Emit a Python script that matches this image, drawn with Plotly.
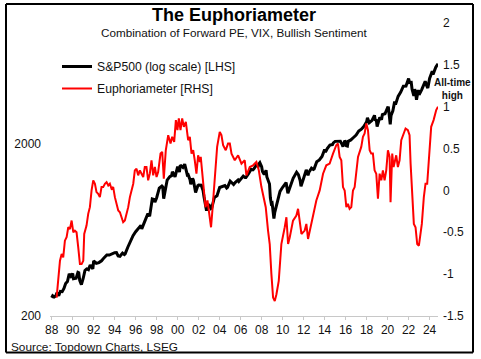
import plotly.graph_objects as go

# ---------------- data ----------------
# S&P 500 (log scale, LHS): fractional year, index level
spx_year = [1988.00, 1988.10, 1988.25, 1988.40, 1988.50, 1988.67, 1988.83, 1989.00, 1989.17, 1989.33,
            1989.50, 1989.67, 1989.83, 1990.00, 1990.08, 1990.33, 1990.50, 1990.58, 1990.67, 1990.83,
            1991.00, 1991.17, 1991.33, 1991.50, 1991.67, 1991.92, 1992.00, 1992.25, 1992.50, 1992.75,
            1993.00, 1993.25, 1993.50, 1993.75, 1994.00, 1994.17, 1994.33, 1994.50, 1994.75, 1994.92,
            1995.00, 1995.25, 1995.50, 1995.75, 1996.00, 1996.25, 1996.50, 1996.58, 1996.75, 1997.00,
            1997.17, 1997.33, 1997.50, 1997.58, 1997.75, 1997.83, 1998.00, 1998.25, 1998.50, 1998.58,
            1998.67, 1998.75, 1998.92, 1999.00, 1999.25, 1999.42, 1999.50, 1999.75, 2000.00, 2000.17,
            2000.25, 2000.50, 2000.67, 2000.75, 2000.92, 2001.00, 2001.17, 2001.25, 2001.42, 2001.50,
            2001.71, 2001.92, 2002.00, 2002.25, 2002.42, 2002.50, 2002.58, 2002.75, 2002.83, 2003.00,
            2003.17, 2003.25, 2003.50, 2003.75, 2004.00, 2004.25, 2004.50, 2004.67, 2004.75, 2005.00,
            2005.25, 2005.33, 2005.50, 2005.75, 2005.83, 2006.00, 2006.25, 2006.42, 2006.50, 2006.75,
            2007.00, 2007.17, 2007.25, 2007.50, 2007.67, 2007.75, 2007.83, 2008.00, 2008.08, 2008.25,
            2008.42, 2008.50, 2008.75, 2008.83, 2008.92, 2009.00, 2009.08, 2009.17, 2009.25, 2009.50,
            2009.75, 2010.00, 2010.25, 2010.33, 2010.50, 2010.75, 2011.00, 2011.33, 2011.50, 2011.67,
            2011.75, 2012.00, 2012.25, 2012.42, 2012.50, 2012.75, 2012.92, 2013.00, 2013.25, 2013.50,
            2013.75, 2014.00, 2014.08, 2014.25, 2014.50, 2014.75, 2014.83, 2015.00, 2015.25, 2015.50,
            2015.67, 2015.75, 2015.92, 2016.00, 2016.08, 2016.17, 2016.25, 2016.50, 2016.75, 2017.00,
            2017.25, 2017.50, 2017.75, 2018.00, 2018.08, 2018.17, 2018.25, 2018.50, 2018.75, 2018.83,
            2018.92, 2019.00, 2019.25, 2019.42, 2019.50, 2019.75, 2020.00, 2020.08, 2020.17, 2020.25,
            2020.33, 2020.50, 2020.67, 2020.75, 2021.00, 2021.25, 2021.50, 2021.75, 2022.00, 2022.08,
            2022.25, 2022.33, 2022.50, 2022.58, 2022.67, 2022.75, 2022.92, 2023.00, 2023.25, 2023.50,
            2023.58, 2023.75, 2023.83, 2024.00, 2024.25, 2024.33, 2024.50, 2024.58, 2024.67, 2024.80]
spx_value = [255, 262, 258, 262, 273, 262, 278, 277, 289, 309,
             317, 351, 340, 353, 329, 331, 358, 356, 322, 304,
             330, 367, 375, 371, 395, 375, 417, 404, 408, 418,
             436, 452, 451, 459, 466, 467, 446, 444, 463, 454,
             459, 501, 545, 584, 616, 645, 671, 640, 687, 741,
             786, 757, 885, 954, 947, 915, 970, 1102, 1134, 1121,
             957, 1017, 1163, 1229, 1286, 1302, 1373, 1283, 1469, 1366,
             1499, 1455, 1518, 1436, 1315, 1320, 1240, 1160, 1255, 1224,
             1041, 1139, 1148, 1147, 1067, 990, 912, 815, 885, 880,
             841, 848, 975, 996, 1112, 1126, 1141, 1104, 1115, 1212,
             1181, 1157, 1191, 1229, 1207, 1248, 1295, 1270, 1270, 1336,
             1418, 1407, 1421, 1503, 1474, 1527, 1549, 1468, 1378, 1323,
             1400, 1280, 1166, 969, 896, 903, 826, 735, 798, 919,
             1057, 1115, 1169, 1187, 1031, 1141, 1258, 1364, 1321, 1219,
             1131, 1258, 1408, 1310, 1362, 1441, 1416, 1426, 1569, 1606,
             1682, 1848, 1783, 1872, 1960, 1972, 2018, 2059, 2068, 2063,
             1972, 1920, 2080, 2044, 1940, 1932, 2060, 2099, 2168, 2239,
             2363, 2423, 2519, 2674, 2824, 2714, 2641, 2718, 2914, 2712,
             2760, 2507, 2834, 2752, 2942, 2977, 3231, 3226, 2954, 2585,
             2912, 3100, 3500, 3363, 3756, 3973, 4298, 4308, 4766, 4516,
             4530, 4132, 3785, 4130, 3955, 3586, 4080, 3840, 4109, 4450,
             4589, 4288, 4194, 4770, 5254, 5036, 5460, 5522, 5648, 5800]

# Euphoriameter (RHS): fractional year, composite z-score
eu_year = [1988.47, 1988.63, 1988.79, 1988.95, 1989.10, 1989.26, 1989.42, 1989.58, 1989.74, 1989.90,
           1990.06, 1990.21, 1990.37, 1990.53, 1990.69, 1990.85, 1991.01, 1991.10, 1991.32, 1991.48,
           1991.64, 1991.80, 1991.96, 1992.12, 1992.27, 1992.43, 1992.59, 1992.75, 1992.91, 1993.07,
           1993.23, 1993.39, 1993.54, 1993.70, 1993.86, 1994.02, 1994.18, 1994.34, 1994.50, 1994.66,
           1994.81, 1994.97, 1995.13, 1995.29, 1995.45, 1995.61, 1995.77, 1995.92, 1996.08, 1996.24,
           1996.40, 1996.56, 1996.72, 1996.87, 1997.03, 1997.19, 1997.35, 1997.51, 1997.67, 1997.83,
           1997.99, 1998.14, 1998.37, 1998.53, 1998.68, 1998.87, 1999.10, 1999.32, 1999.48, 1999.67,
           1999.83, 1999.98, 2000.11, 2000.27, 2000.43, 2000.59, 2000.78, 2001.00, 2001.16, 2001.32,
           2001.48, 2001.63, 2001.79, 2001.95, 2002.11, 2002.20, 2002.43, 2002.65, 2002.84, 2003.00,
           2003.18, 2003.31, 2003.54, 2003.76, 2004.01, 2004.17, 2004.33, 2004.58, 2004.80, 2004.97,
           2005.13, 2005.44, 2005.76, 2006.08, 2006.39, 2006.55, 2006.87, 2007.19, 2007.50, 2007.73,
           2007.98, 2008.14, 2008.39, 2008.61, 2008.77, 2008.93, 2009.09, 2009.25, 2009.41, 2009.63,
           2009.88, 2010.20, 2010.36, 2010.52, 2010.68, 2010.99, 2011.31, 2011.47, 2011.79, 2012.10,
           2012.26, 2012.42, 2012.74, 2012.90, 2013.21, 2013.53, 2013.85, 2014.16, 2014.48, 2014.80,
           2015.11, 2015.27, 2015.43, 2015.59, 2015.75, 2015.91, 2016.07, 2016.22, 2016.38, 2016.54,
           2016.70, 2016.86, 2017.18, 2017.49, 2017.65, 2017.81, 2017.97, 2018.13, 2018.29, 2018.44,
           2018.60, 2018.76, 2018.92, 2019.08, 2019.24, 2019.40, 2019.55, 2019.71, 2019.87, 2020.03,
           2020.19, 2020.28, 2020.44, 2020.57, 2020.82, 2020.98, 2021.14, 2021.30, 2021.52, 2021.71,
           2021.93, 2022.09, 2022.19, 2022.35, 2022.50, 2022.66, 2022.82, 2022.98, 2023.11, 2023.26,
           2023.45, 2023.61, 2023.77, 2023.93, 2024.15, 2024.38, 2024.63, 2024.80]
eu_value = [-1.28, -1.04, -0.84, -0.76, -0.80, -0.60, -0.56, -0.44, -0.46, -0.36,
            -0.50, -0.48, -0.50, -0.68, -0.88, -0.88, -0.84, -0.52, -0.42, -0.28,
            -0.20, 0.00, 0.12, 0.08, -0.02, -0.04, -0.08, 0.04, 0.04, 0.08,
            0.10, 0.06, 0.08, 0.02, 0.04, -0.08, -0.16, -0.24, -0.26, -0.34,
            -0.38, -0.36, -0.28, -0.20, -0.08, 0.00, 0.08, 0.24, 0.26, 0.18,
            0.24, 0.20, 0.16, 0.28, 0.28, 0.12, 0.20, 0.36, 0.18, 0.28,
            0.16, 0.22, 0.44, 0.46, 0.14, 0.48, 0.66, 0.56, 0.64, 0.58,
            0.84, 0.72, 0.86, 0.72, 0.86, 0.76, 0.82, 0.60, 0.64, 0.44,
            0.48, 0.36, 0.20, 0.42, 0.34, 0.40, 0.06, -0.20, -0.12, -0.30,
            -0.44, -0.24, 0.12, 0.52, 0.70, 0.66, 0.54, 0.48, 0.56, 0.56,
            0.44, 0.36, 0.42, 0.32, 0.36, 0.18, 0.28, 0.30, 0.34, 0.24,
            0.04, -0.04, -0.20, -0.48, -0.64, -1.00, -1.28, -1.32, -1.24, -1.08,
            -0.64, -0.44, -0.32, -0.64, -0.56, -0.36, -0.30, -0.22, -0.52, -0.48,
            -0.40, -0.58, -0.40, -0.28, -0.12, 0.00, 0.20, 0.30, 0.32, 0.44,
            0.54, 0.56, 0.40, 0.36, 0.04, 0.00, -0.20, -0.16, -0.22, -0.20,
            0.00, 0.04, 0.40, 0.52, 0.64, 0.68, 0.80, 0.72, 0.48, 0.44,
            0.44, 0.24, 0.20, -0.10, 0.20, 0.12, 0.24, 0.12, 0.24, 0.48,
            0.40, -0.14, 0.44, 0.28, 0.42, 0.28, 0.36, 0.60, 0.68, 0.74,
            0.72, 0.66, 0.32, 0.00, -0.40, -0.44, -0.64, -0.66, -0.52, -0.40,
            -0.08, 0.08, 0.08, 0.40, 0.76, 0.84, 0.96, 1.00]

x_tick_years = list(range(1988, 2025, 2))
x_tick_labels = ["%02d" % (y % 100) for y in x_tick_years]
left_tick_vals = [200, 2000]
left_tick_labels = ["200", "2000"]
right_tick_vals = [-1.5, -1, -0.5, 0, 0.5, 1, 1.5, 2]
right_tick_labels = ["-1.5", "-1", "-0.5", "0", "0.5", "1", "1.5", "2"]

title_text = "The Euphoriameter"
subtitle_text = "Combination of Forward PE, VIX, Bullish Sentiment"
source_text = "Source: Topdown Charts, LSEG"
note_text = "All-time<br>high"

# ---------------- figure ----------------
FONT = "Arial, 'Liberation Sans', sans-serif"
W, H = 481, 359
L, R, T, B = 50, 43, 23, 43
PW, PH = W - L - R, H - T - B


def px_x(x):
    return (x - L) / PW


def px_y(y):
    return (H - B - y) / PH


# outer frame (pixels)
FX0, FX1, FY0, FY1 = 6, 473, 4, 352.5


def frame_line(x0, y0, x1, y1):
    return dict(type="line", xref="paper", yref="paper", layer="above",
                x0=px_x(x0), x1=px_x(x1), y0=px_y(y0), y1=px_y(y1),
                line=dict(color="#000000", width=2))


fig = go.Figure()
fig.add_trace(go.Scatter(x=spx_year, y=spx_value, mode="lines", name="S&P500 (log scale) [LHS]",
                         line=dict(color="#000000", width=3), legendgroup="a", yaxis="y"))
fig.add_trace(go.Scatter(x=eu_year, y=eu_value, mode="lines", name="Euphoriameter [RHS]",
                         line=dict(color="#ff0000", width=2), legendgroup="b", yaxis="y2"))

fig.update_layout(
    width=W, height=H,
    margin=dict(l=L, r=R, t=T, b=B, pad=0),
    paper_bgcolor="white", plot_bgcolor="white",
    font=dict(family=FONT, size=12, color="#111111"),
    showlegend=True,
    legend=dict(x=px_x(57), y=px_y(52), xanchor="left", yanchor="top",
                bgcolor="rgba(0,0,0,0)", font=dict(size=12.2, color="#111111"),
                tracegroupgap=3, itemwidth=30),
    xaxis=dict(range=[1987.84, 2024.8], tickmode="array", tickvals=x_tick_years,
               ticktext=x_tick_labels, showgrid=False, zeroline=False,
               showline=True, linecolor="#c8c8c8", linewidth=1,
               ticks="outside", ticklen=3, tickcolor="#c8c8c8",
               tickfont=dict(size=12)),
    yaxis=dict(type="log", range=[2.30103, 4.0], tickmode="array",
               tickvals=left_tick_vals, ticktext=left_tick_labels,
               showgrid=False, zeroline=False, showline=False, ticks="",
               ticklabelstandoff=8, tickfont=dict(size=12)),
    yaxis2=dict(overlaying="y", side="right", range=[-1.5, 2], tickmode="array",
                tickvals=right_tick_vals, ticktext=right_tick_labels,
                showgrid=False, zeroline=False, showline=False, ticks="",
                ticklabelstandoff=4, tickfont=dict(size=12)),
    shapes=[
        frame_line(FX0, FY0, FX1, FY0),
        frame_line(FX0, FY1, FX1, FY1),
        frame_line(FX0, FY0, FX0, FY1),
        frame_line(FX1, FY0, FX1, FY1),
    ],
    annotations=[
        dict(text="<b>%s</b>" % title_text, x=px_x(234), y=px_y(15), xref="paper", yref="paper",
             xanchor="center", yanchor="middle", showarrow=False, font=dict(size=18, color="#000000")),
        dict(text=subtitle_text, x=px_x(234), y=px_y(33), xref="paper", yref="paper",
             xanchor="center", yanchor="middle", showarrow=False, font=dict(size=11.7, color="#111111")),
        dict(text="<b>%s</b>" % note_text, x=px_x(452), y=px_y(89), xref="paper", yref="paper",
             xanchor="center", yanchor="middle", showarrow=False, font=dict(size=10, color="#111111")),
        dict(text=source_text, x=px_x(9), y=px_y(347), xref="paper", yref="paper",
             xanchor="left", yanchor="middle", showarrow=False, font=dict(size=11.8, color="#111111")),
    ],
)

fig.write_html("out.html", config={"displayModeBar": False},
               post_script="document.body.style.margin='0';document.body.style.overflow='hidden';")
